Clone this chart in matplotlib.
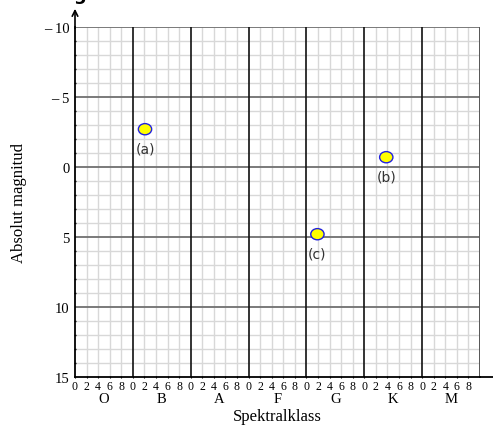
import matplotlib
matplotlib.use('Agg')
from matplotlib import pyplot as plt
from matplotlib.patches import Ellipse
import numpy as np

# spectral classes and the three stars
classes = ['O', 'B', 'A', 'F', 'G', 'K', 'M']
star_names = ['(a)', '(b)', '(c)']
star_spec = [12.1, 53.8, 41.9]     # 10 subclasses per class, O0 = 0
star_mag = [-2.7, -0.7, 4.8]
y_ticks = [-10, -5, 0, 5, 10, 15]
y_labels = ['\u2013 10', '\u2013 5', '0', '5', '10', '15']

serif = 'Liberation Serif'

fig = plt.figure(figsize=(4.93, 4.27), dpi=100)
ax = fig.add_axes([75 / 493, 1 - 378 / 427, 405 / 493, 350 / 427])

xmax = 10 * len(classes)
ax.set_xlim(0, xmax)
ax.set_ylim(15, -10)

# grid
for x in np.arange(0, xmax + 1, 2):
    if x % 10 == 0:
        continue
    ax.axvline(x, color='#d8d8d8', lw=1.0, zorder=1)
for y in np.arange(-10, 16, 1):
    if y % 5 == 0:
        continue
    ax.axhline(y, color='#d8d8d8', lw=1.0, zorder=1)
for y in range(-10, 15, 5):
    ax.axhline(y, color='#707070', lw=1.3, zorder=2)
for x in range(10, xmax, 10):
    ax.axvline(x, color='#111111', lw=1.2, zorder=2)
ax.axvline(xmax, color='#555555', lw=1.4, zorder=2)

for s in ['top', 'right']:
    ax.spines[s].set_visible(False)
ax.spines['left'].set_linewidth(1.3)
ax.spines['bottom'].set_linewidth(1.3)
ax.spines['left'].set_zorder(3)
ax.spines['bottom'].set_zorder(3)

# arrow on y axis and extended x axis
ax.annotate('', xy=(0, -11.3), xytext=(0, -9.9), annotation_clip=False,
            arrowprops=dict(arrowstyle='->', lw=1.2, color='black', shrinkA=0, shrinkB=0))
ax.plot([xmax, xmax + 2.5], [15, 15], color='black', lw=1.3, clip_on=False, zorder=3)

# ticks
ax.set_yticks(y_ticks)
ax.set_yticklabels(y_labels, fontfamily=serif, fontsize=10.5)
ax.set_yticks(np.arange(-10, 16, 1), minor=True)
ax.tick_params(axis='y', which='major', length=0, pad=4)
ax.tick_params(axis='y', which='minor', length=2, direction='inout', width=1)

xt = np.arange(0, xmax, 2)
ax.set_xticks(xt)
ax.set_xticklabels([str(int(v % 10)) for v in xt], fontfamily=serif, fontsize=8.5)
ax.tick_params(axis='x', which='major', length=2, direction='inout', pad=1)

for i, c in enumerate(classes):
    ax.text(10 * i + 5, 16.1, c, ha='center', va='top', fontfamily=serif, fontsize=10.5)

ax.set_xlabel('Spektralklass', fontfamily=serif, fontsize=12, labelpad=12)
ax.set_ylabel('Absolut magnitud', fontfamily=serif, fontsize=12, labelpad=12)

# stars
for name, sx, sy in zip(star_names, star_spec, star_mag):
    ax.add_patch(Ellipse((sx, sy), 2.3, 0.8, facecolor='#ffff00', edgecolor='#2020e0',
                         lw=1.0, zorder=5))
    ax.text(sx, sy + 1.4, name, ha='center', va='center', fontsize=10,
            color='#333333', zorder=5)

# top of a cut-off heading
fig.text(80 / 493, 1.012, 'g', ha='center', va='center', fontsize=13,
         fontweight='bold', color='black')

fig.savefig('out.png', dpi=100)
